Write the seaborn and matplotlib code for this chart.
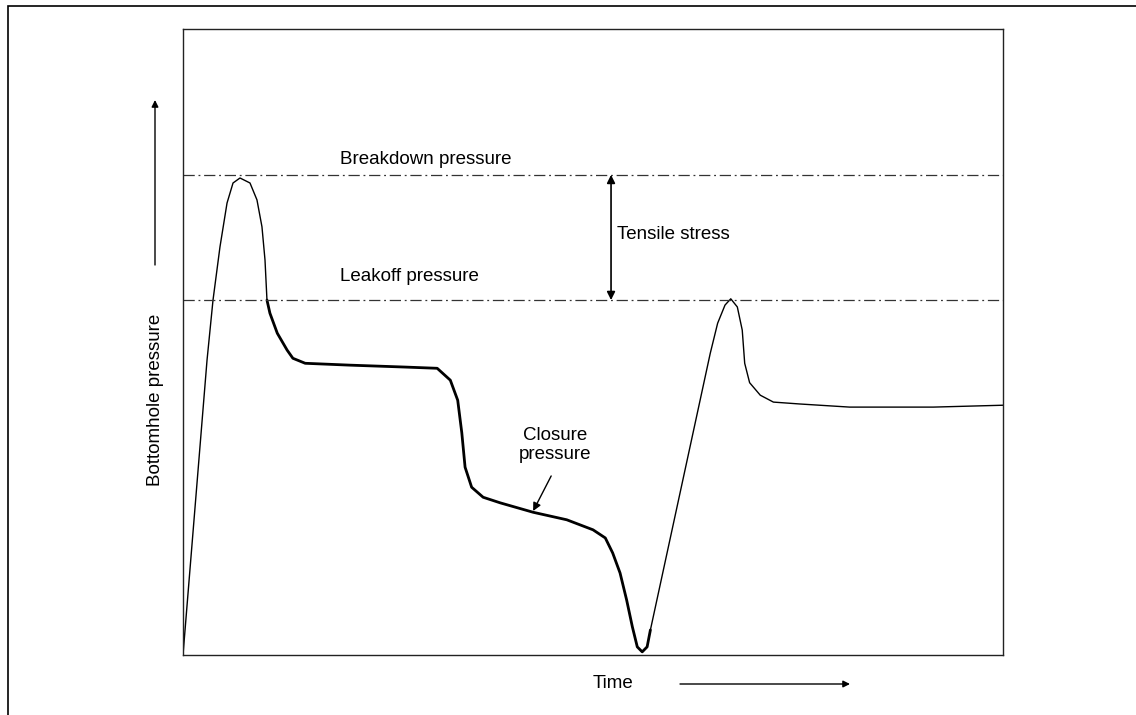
import matplotlib
matplotlib.use("Agg")
import matplotlib.pyplot as plt
from matplotlib.patches import Rectangle, FancyArrowPatch
import seaborn as sns
import pandas as pd

# pressure trace (time and pressure in percent of the axes)
time = [0, 2.93, 3.66, 4.51, 5.37, 6.10, 6.95, 8.17, 9.02, 9.63, 10.0, 10.24,
        10.6, 11.5, 12.7, 13.4, 14.9, 20.4, 27.0, 31.0, 32.6, 33.5, 34.0, 34.4,
        35.2, 36.6, 38.7, 42.7, 46.8, 50.0, 51.5, 52.4, 53.3, 54.1, 54.8, 55.4,
        56.0, 56.6, 57.0,
        64.3, 65.2, 66.1, 66.8, 67.6, 68.2, 68.5, 69.1, 70.4, 72.0, 75.2, 81.3,
        91.5, 100]
pressure = [0, 47.1, 56.7, 65.2, 72.2, 75.4, 76.2, 75.4, 72.7, 68.4, 63.1, 56.7,
            54.6, 51.4, 48.7, 47.4, 46.6, 46.3, 46.0, 45.8, 43.9, 40.7, 35.5, 30.0,
            26.8, 25.2, 24.3, 22.8, 21.6, 20.0, 18.7, 16.3, 13.1, 8.8, 4.5, 1.3,
            0.5, 1.3, 4.0,
            48.2, 53.0, 55.9, 56.9, 55.6, 51.9, 46.6, 43.5, 41.5, 40.4, 40.1, 39.6,
            39.6, 39.9]
# index range of the heavier stroke (leakoff crossing to the bottom of the dip)
heavy_start, heavy_end = 11, 38

breakdown_p = 76.7
leakoff_p = 56.7

df = pd.DataFrame({"time": time, "pressure": pressure})

sns.set_style("white")
plt.rcParams["font.family"] = ["Liberation Sans", "DejaVu Sans"]
plt.rcParams["text.color"] = "black"

fig = plt.figure(figsize=(11.36, 7.15), dpi=100)
ax = fig.add_axes([183 / 1136, 1 - 655 / 715, 820 / 1136, 626 / 715])

parts = [(df.iloc[:heavy_start + 1], 1.0),
         (df.iloc[heavy_start:heavy_end + 1], 2.0),
         (df.iloc[heavy_end:], 1.0)]
for part, lw in parts:
    sns.lineplot(data=part, x="time", y="pressure", sort=False, estimator=None,
                 color="black", lw=lw, ax=ax)

for p in (breakdown_p, leakoff_p):
    ax.axhline(p, color="#333333", lw=0.9, ls=(0, (9, 3, 1.5, 3)))

ax.set_xlim(0, 100)
ax.set_ylim(0, 100)
ax.set_xticks([])
ax.set_yticks([])
ax.set_xlabel("")
ax.set_ylabel("")
for s in ax.spines.values():
    s.set_color("#222222")
    s.set_linewidth(1.0)

fs = 13.5
ax.text(19.1, 79.1, "Breakdown pressure", fontsize=fs, va="center", ha="left")
ax.text(19.1, 60.4, "Leakoff pressure", fontsize=fs, va="center", ha="left")
ax.text(52.9, 67.1, "Tensile stress", fontsize=fs, va="center", ha="left")
ax.text(45.4, 33.6, "Closure\npressure", fontsize=fs, va="center", ha="center",
        linespacing=1.15)
ax.annotate("", xy=(52.2, breakdown_p), xytext=(52.2, leakoff_p),
            arrowprops=dict(arrowstyle="<|-|>", color="black", lw=1.2,
                            mutation_scale=12, shrinkA=0, shrinkB=0))
ax.annotate("", xy=(42.7, 23.0), xytext=(44.9, 28.6),
            arrowprops=dict(arrowstyle="-|>", color="black", lw=1.0,
                            mutation_scale=12, shrinkA=0, shrinkB=0))

# axis captions with direction arrows
fig.text(155 / 1136, 1 - 400 / 715, "Bottomhole pressure", rotation=90,
         fontsize=fs, ha="center", va="center")
fig.text(613 / 1136, 1 - 684 / 715, "Time", fontsize=fs, ha="center", va="center")
arr = dict(arrowstyle="-|>", color="black", lw=1.0, mutation_scale=10,
           shrinkA=0, shrinkB=0)
fig.add_artist(FancyArrowPatch((155 / 1136, 1 - 265 / 715),
                               (155 / 1136, 1 - 100 / 715),
                               transform=fig.transFigure, **arr))
fig.add_artist(FancyArrowPatch((680 / 1136, 1 - 684 / 715),
                               (850 / 1136, 1 - 684 / 715),
                               transform=fig.transFigure, **arr))

# outer frame, cropped at the right and bottom
fig.patches.append(Rectangle((8 / 1136, -0.2), 1.2, 0.2 + 1 - 6 / 715,
                             transform=fig.transFigure, fill=False,
                             edgecolor="black", lw=1.2))

fig.savefig("out.png", dpi=100)
